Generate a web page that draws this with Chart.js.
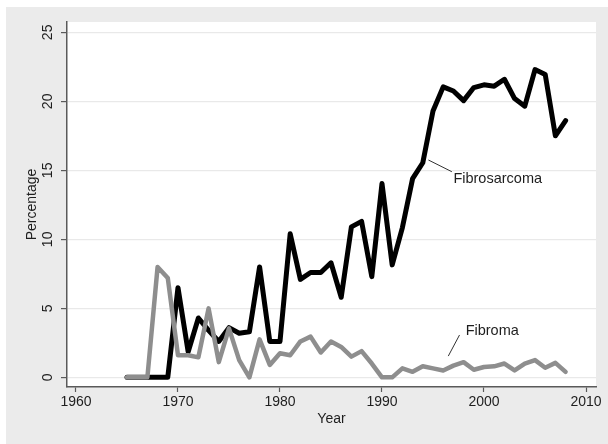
<!DOCTYPE html>
<html>
<head>
<meta charset="utf-8">
<title>Fibrosarcoma / Fibroma</title>
<script src="https://cdn.jsdelivr.net/npm/chart.js@4.4.1/dist/chart.umd.min.js"></script>
<style>
  html, body { margin: 0; padding: 0; background: #ffffff; }
  #panel {
    position: absolute;
    left: 6px;
    top: 7px;
    width: 602px;
    height: 437px;
    background: #ebebeb;
  }
  #trendChart { display: block; }
</style>
</head>
<body>
<div id="panel">
  <canvas id="trendChart" width="602" height="437"></canvas>
</div>

<script>
// ===============================
// Data
// ===============================
const years = [
  1965, 1966, 1967, 1968, 1969, 1970, 1971, 1972, 1973, 1974,
  1975, 1976, 1977, 1978, 1979, 1980, 1981, 1982, 1983, 1984,
  1985, 1986, 1987, 1988, 1989, 1990, 1991, 1992, 1993, 1994,
  1995, 1996, 1997, 1998, 1999, 2000, 2001, 2002, 2003, 2004,
  2005, 2006, 2007, 2008
];

const fibrosarcoma = [
  0, 0, 0, 0, 0, 6.5, 1.85, 4.3, 3.4, 2.6,
  3.6, 3.2, 3.3, 8.0, 2.6, 2.6, 10.4, 7.1, 7.6, 7.6,
  8.3, 5.8, 10.9, 11.3, 7.3, 14.05, 8.15, 10.85, 14.4, 15.55,
  19.3, 21.05, 20.75, 20.05, 21.0, 21.2, 21.1, 21.6, 20.2, 19.65,
  22.3, 21.95, 17.5, 18.6
];

const fibroma = [
  0, 0, 0, 8.0, 7.2, 1.6, 1.6, 1.45, 5.0, 1.1,
  3.55, 1.25, 0, 2.75, 0.9, 1.75, 1.6, 2.6, 2.95, 1.8,
  2.6, 2.2, 1.5, 1.9, 1.0, 0, 0, 0.65, 0.4, 0.8,
  0.65, 0.5, 0.85, 1.1, 0.55, 0.75, 0.8, 1.0, 0.5, 1.0,
  1.25, 0.7, 1.05, 0.4
];

const yearTicks = [1960, 1970, 1980, 1990, 2000, 2010];
const percentTicks = [0, 5, 10, 15, 20, 25];

// ===============================
// Colors / fonts
// ===============================
const COLORS = {
  sarcoma: "#000000",
  fibroma: "#8e8e8e",
  axis: "#5a5a5a",
  grid: "#e9e9e9",
  text: "#1e1e1e",
  plotBg: "#ffffff"
};

const FONT_FAMILY = "'Liberation Sans', Arial, Helvetica, sans-serif";

// labels in data units, leader line from [x0,y0] to [x1,y1]
const notes = [
  { text: "Fibrosarcoma", x: 1997.0, y: 14.35, line: [1994.55, 15.75, 1996.85, 14.9] },
  { text: "Fibroma", x: 1998.2, y: 3.36, line: [1996.5, 1.54, 1997.6, 3.07] }
];

function toPoints(values) {
  return values.map((v, i) => ({ x: years[i], y: v }));
}

/* -----------------------------------------------------
   White plot region
----------------------------------------------------- */
const plotBgPlugin = {
  id: "plotBg",
  beforeDraw(chart) {
    const { ctx, chartArea: a } = chart;
    ctx.save();
    ctx.fillStyle = COLORS.plotBg;
    ctx.fillRect(a.left, a.top, a.right - a.left, a.bottom - a.top);
    ctx.restore();
  }
};

/* -----------------------------------------------------
   Labels with leader lines
----------------------------------------------------- */
const notePlugin = {
  id: "notes",
  afterDatasetsDraw(chart) {
    const { ctx, scales: { x, y } } = chart;
    ctx.save();
    ctx.strokeStyle = "#333333";
    ctx.lineWidth = 1;
    ctx.fillStyle = COLORS.text;
    ctx.font = "14.5px " + FONT_FAMILY;
    ctx.textAlign = "left";
    ctx.textBaseline = "middle";
    notes.forEach((n) => {
      const [x0, y0, x1, y1] = n.line;
      ctx.beginPath();
      ctx.moveTo(x.getPixelForValue(x0), y.getPixelForValue(y0));
      ctx.lineTo(x.getPixelForValue(x1), y.getPixelForValue(y1));
      ctx.stroke();
      ctx.fillText(n.text, x.getPixelForValue(n.x), y.getPixelForValue(n.y));
    });
    ctx.restore();
  }
};

/* -----------------------------------------------------
   Chart
----------------------------------------------------- */
new Chart(document.getElementById("trendChart"), {
  type: "line",
  data: {
    datasets: [
      {
        label: "Fibroma",
        data: toPoints(fibroma),
        borderColor: COLORS.fibroma,
        borderWidth: 4.5,
        borderJoinStyle: "round",
        borderCapStyle: "round",
        pointRadius: 0,
        tension: 0
      },
      {
        label: "Fibrosarcoma",
        data: toPoints(fibrosarcoma),
        borderColor: COLORS.sarcoma,
        borderWidth: 5,
        borderJoinStyle: "round",
        borderCapStyle: "round",
        pointRadius: 0,
        tension: 0
      }
    ]
  },
  options: {
    responsive: false,
    animation: false,
    layout: { padding: { top: 15, right: 12, left: 0, bottom: 0 } },
    plugins: {
      legend: { display: false },
      tooltip: { enabled: false }
    },
    scales: {
      x: {
        type: "linear",
        min: 1959.12,
        max: 2010.98,
        afterBuildTicks: (s) => { s.ticks = yearTicks.map((v) => ({ value: v })); },
        afterFit: (s) => { s.height = 57; },
        border: { color: COLORS.axis, width: 1.5 },
        grid: {
          drawOnChartArea: false,
          drawTicks: true,
          tickLength: 5,
          tickColor: COLORS.axis,
          tickWidth: 1.2
        },
        ticks: {
          padding: 2,
          maxRotation: 0,
          color: COLORS.text,
          font: { family: FONT_FAMILY, size: 14 },
          callback: (v) => String(v)
        },
        title: {
          display: true,
          text: "Year",
          color: COLORS.text,
          font: { family: FONT_FAMILY, size: 14 },
          padding: { top: 0, bottom: 16.6 }
        }
      },
      y: {
        min: -0.7,
        max: 25.75,
        afterBuildTicks: (s) => { s.ticks = percentTicks.map((v) => ({ value: v })); },
        afterFit: (s) => { s.width = 61; },
        border: { color: COLORS.axis, width: 1.5 },
        grid: {
          color: COLORS.grid,
          lineWidth: 1.2,
          drawTicks: true,
          tickLength: 6,
          tickColor: COLORS.axis,
          tickWidth: 1.2
        },
        ticks: {
          padding: 5,
          minRotation: 90,
          maxRotation: 90,
          crossAlign: "center",
          color: COLORS.text,
          font: { family: FONT_FAMILY, size: 14 }
        },
        title: {
          display: true,
          text: "Percentage",
          color: COLORS.text,
          font: { family: FONT_FAMILY, size: 14 },
          padding: { top: 17.6, bottom: 0 }
        }
      }
    }
  },
  plugins: [plotBgPlugin, notePlugin]
});
</script>
</body>
</html>
